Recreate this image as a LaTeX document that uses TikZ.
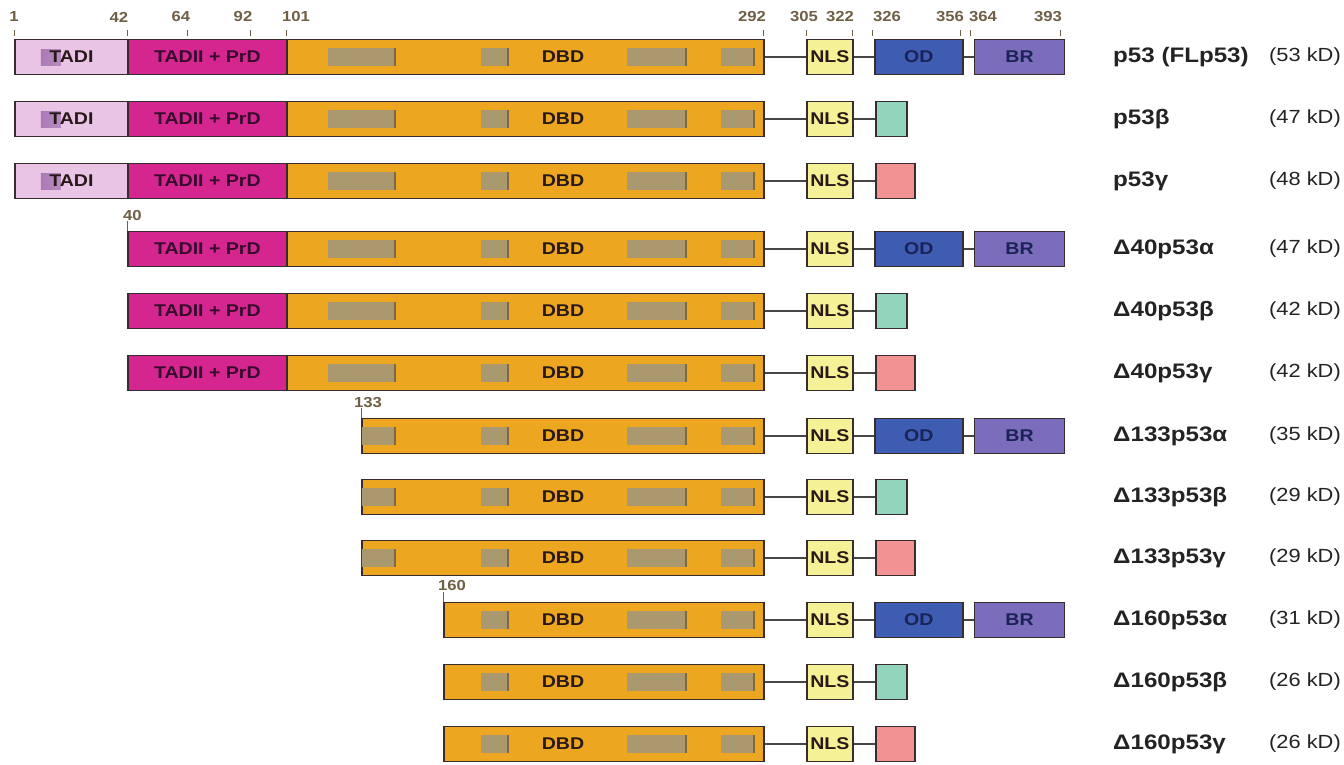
\documentclass[tikz,border=0pt]{standalone}
\usepackage{fontspec}
\setmainfont{Liberation Sans}
\newfontfamily\widesans[FakeStretch=1.15]{Liberation Sans}

\definecolor{tadIcol}{RGB}{234,196,228}
\definecolor{tadpatch}{RGB}{150,100,168}
\definecolor{tadIIcol}{RGB}{213,38,143}
\definecolor{dbdcol}{RGB}{236,166,32}
\definecolor{blockcol}{RGB}{170,152,110}
\definecolor{blockedge}{RGB}{125,105,68}
\definecolor{nlscol}{RGB}{245,241,150}
\definecolor{odcol}{RGB}{62,92,178}
\definecolor{brcol}{RGB}{124,108,188}
\definecolor{betacol}{RGB}{146,212,188}
\definecolor{gammacol}{RGB}{242,146,146}
\definecolor{segedge}{RGB}{55,45,45}
\definecolor{linkcol}{RGB}{70,70,70}
\definecolor{segtext}{RGB}{40,25,25}
\definecolor{tadIItext}{RGB}{55,10,45}
\definecolor{odtext}{RGB}{25,35,85}
\definecolor{numcol}{RGB}{110,95,70}
\definecolor{namecol}{RGB}{35,35,35}

\begin{document}
\begin{tikzpicture}[x=1pt,y=-1pt,
    seg/.style={draw=segedge, line width=1.8pt, anchor=west, minimum height=35pt,
        inner sep=0pt, text=segtext, font=\widesans\bfseries\fontsize{17}{19}\selectfont},
    tadone/.style={seg, fill=tadIcol, minimum width=113pt,
        path picture={\shade[left color=tadpatch, right color=tadIcol]
            ([shift={(26pt,-8pt)}]path picture bounding box.west) rectangle ++(20pt,16pt);}},
    tadtwo/.style={seg, fill=tadIIcol, text=tadIItext, minimum width=159pt},
    dbd/.style={seg, fill=dbdcol},
    nls/.style={seg, fill=nlscol, minimum width=46pt},
    od/.style={seg, fill=odcol, text=odtext, minimum width=88pt},
    br/.style={seg, fill=brcol, text=odtext, minimum width=90pt},
    betatail/.style={seg, fill=betacol, minimum width=31pt},
    gammatail/.style={seg, fill=gammacol, minimum width=39pt},
    boxtext/.style={inner sep=0pt, text=segtext, font=\widesans\bfseries\fontsize{17}{19}\selectfont},
    link/.style={draw=linkcol, line width=1.8pt},
    tick/.style={draw=numcol, line width=1pt},
    resnum/.style={inner sep=0pt, text=numcol, font=\widesans\bfseries\fontsize{14.5}{16}\selectfont},
    isoname/.style={anchor=west, inner sep=0pt, text=namecol, font=\widesans\bfseries\fontsize{21}{24}\selectfont},
    kda/.style={anchor=east, inner sep=0pt, text=namecol, font=\widesans\fontsize{19}{22}\selectfont}
]

    \useasboundingbox[fill=white] (0,0) rectangle (1344,764);

    % residue ruler
    \foreach \x/\lx/\n in {14/14/1, 127/119/42, 187/181/64, 250/243/92, 286/296/101,
        763/752/292, 806/804/305, 852/840/322, 872/887/326, 960/950/356, 970/983/364, 1060/1048/393} {
        \draw[tick] (\x,30) -- (\x,36);
        \node[resnum] (res\n) at (\lx,17) {\n};
    }

    % TADI (full length only)
    \foreach \r/\y in {1/57, 2/119, 3/181} {
        \node[tadone] (tadi\r) at (14,\y) {TADI};
    }

    % TADII + PrD
    \foreach \r/\y in {1/57, 2/119, 3/181, 4/249, 5/311, 6/373} {
        \node[tadtwo] (tadii\r) at (127,\y) {TADII + PrD};
    }

    % DBD with conserved blocks, then NLS
    \foreach \r/\y/\s in {1/57/286, 2/119/286, 3/181/286, 4/249/286, 5/311/286, 6/373/286,
        7/436/361, 8/497/361, 9/558/361, 10/620/443, 11/682/443, 12/744/443} {

        \pgfmathsetmacro{\w}{763-\s}
        \node[dbd, minimum width=\w pt] (dbd\r) at (\s,\y) {};

        \begin{scope}
            \clip ([xshift=0.9pt]dbd\r.north west) rectangle (dbd\r.south east);
            \foreach \a/\b in {328/395, 481/508, 627/686, 721/754} {
                \fill[blockcol] (\a,\y-9) rectangle (\b,\y+9);
                \draw[blockedge, line width=1.3pt] (\b,\y-9) -- (\b,\y+9);
            }
        \end{scope}

        \node[boxtext] (dbdtext\r) at (563,\y) {DBD};
        \node[nls] (nls\r) at (806,\y) {NLS};
        \draw[link] (dbd\r) -- (nls\r);
    }

    % alpha: OD + BR
    \foreach \r in {1,4,7,10} {
        \node[od] (od\r) at ([xshift=20pt]nls\r.east) {OD};
        \node[br] (br\r) at ([xshift=10pt]od\r.east) {BR};
        \draw[link] (nls\r) -- (od\r);
        \draw[link] (od\r) -- (br\r);
    }

    % beta tails
    \foreach \r in {2,5,8,11} {
        \node[betatail] (tail\r) at ([xshift=21pt]nls\r.east) {};
        \draw[link] (nls\r) -- (tail\r);
    }

    % gamma tails
    \foreach \r in {3,6,9,12} {
        \node[gammatail] (tail\r) at ([xshift=21pt]nls\r.east) {};
        \draw[link] (nls\r) -- (tail\r);
    }

    % start positions of the N-terminal truncations
    \node[resnum, anchor=west] (res40) at (123,216) {40};
    \draw[tick] (tadii4.north west) -- ++(0,-10);
    \node[resnum, anchor=west] (res133) at (354,403) {133};
    \draw[tick] (dbd7.north west) -- ++(0,-10);
    \node[resnum, anchor=west] (res160) at (438,585) {160};
    \draw[tick] (dbd10.north west) -- ++(0,-10);

    % isoform names and masses
    \foreach \r/\y/\name/\kd in {1/57/{p53 (FLp53)}/53, 2/119/p53β/47, 3/181/p53γ/48,
        4/249/Δ40p53α/47, 5/311/Δ40p53β/42, 6/373/Δ40p53γ/42,
        7/436/Δ133p53α/35, 8/497/Δ133p53β/29, 9/558/Δ133p53γ/29,
        10/620/Δ160p53α/31, 11/682/Δ160p53β/26, 12/744/Δ160p53γ/26} {
        \node[isoname] (name\r) at (1113,\y) {\name};
        \node[kda] (mass\r) at (1341,\y) {(\kd\ kD)};
    }

\end{tikzpicture}
\end{document}
